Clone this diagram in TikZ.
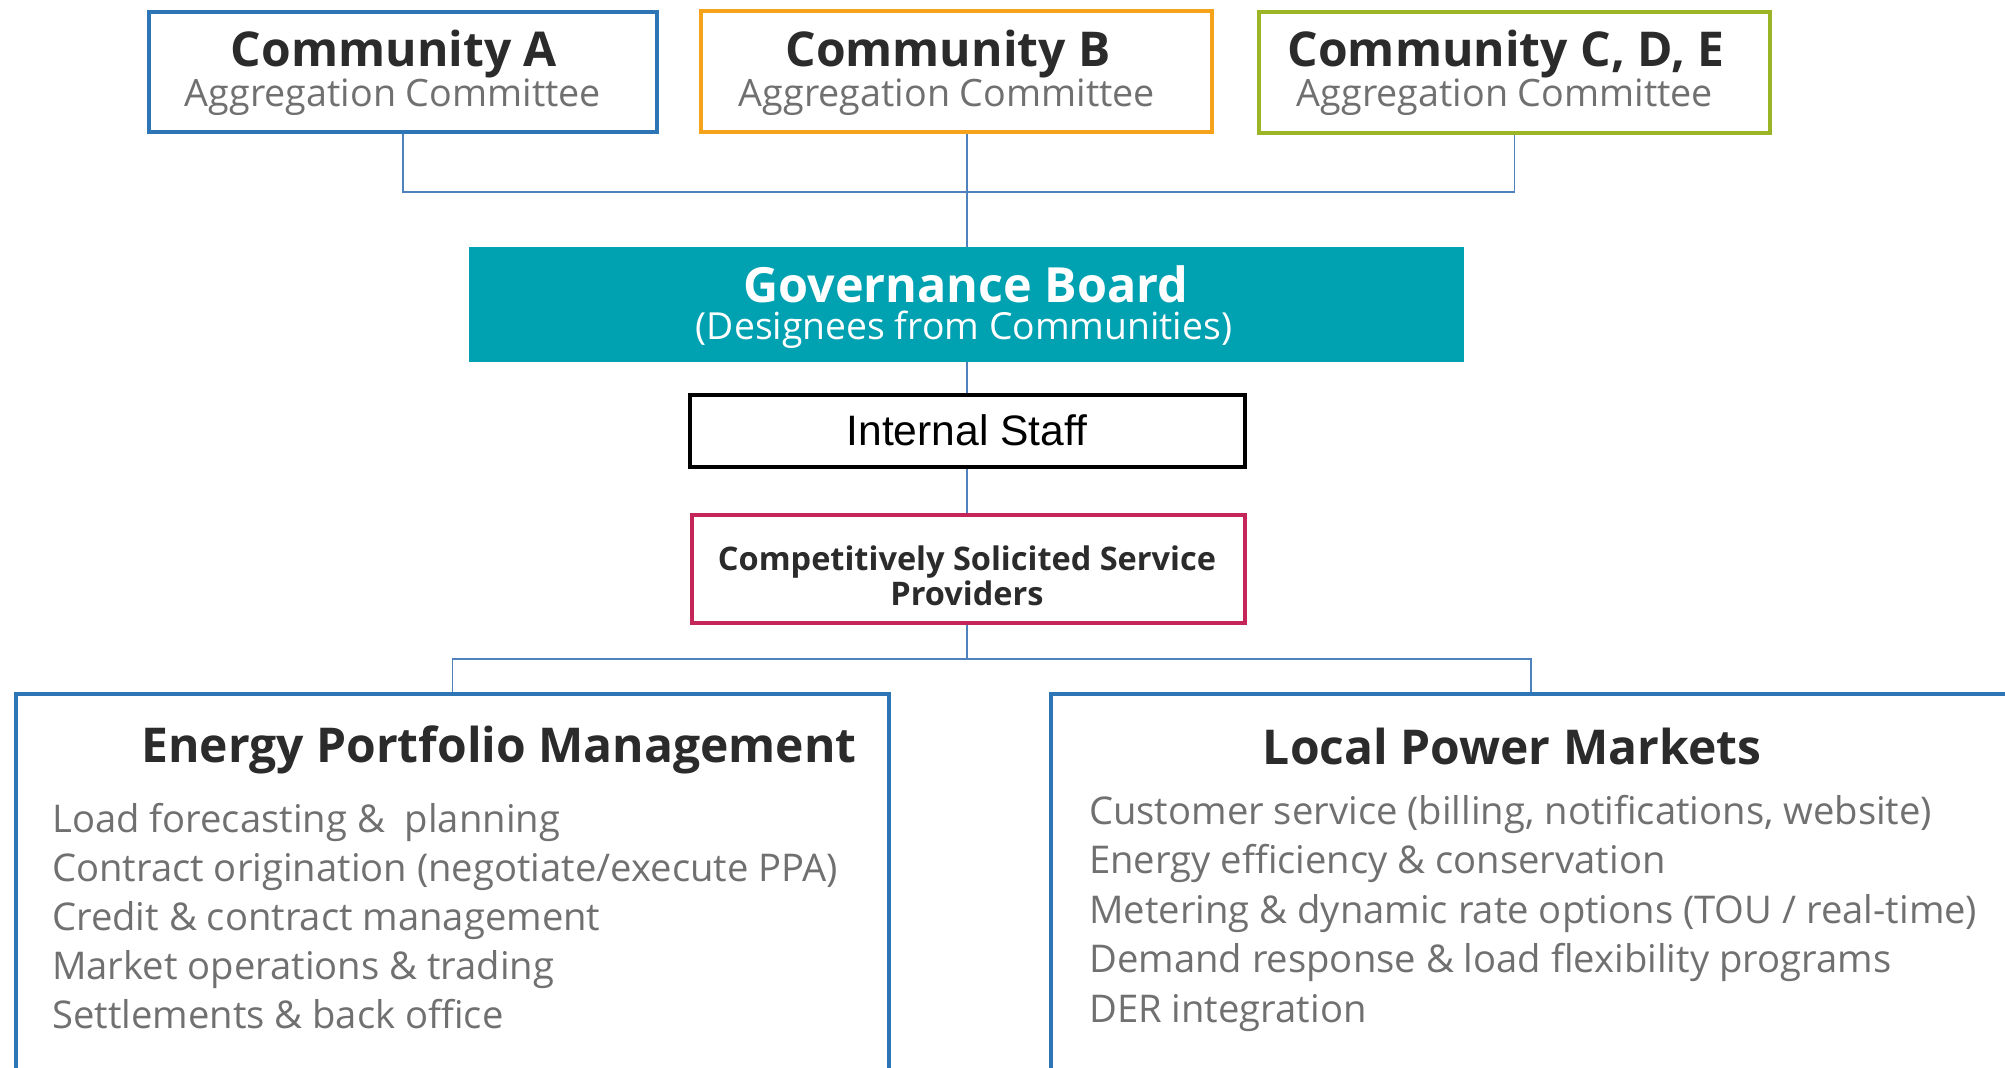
\documentclass[tikz,border=0pt]{standalone}
\usepackage{fontspec}
\setmainfont{Open Sans}
\newfontfamily\arialf{Liberation Sans}
\definecolor{cblue}{HTML}{2E75B6}
\definecolor{corange}{HTML}{F5A31A}
\definecolor{cgreen}{HTML}{9BB526}
\definecolor{cteal}{HTML}{00A1B1}
\definecolor{ccrimson}{HTML}{C4265A}
\definecolor{cline}{HTML}{4F81BD}
\definecolor{tdark}{HTML}{2B2B2B}
\definecolor{tgray}{HTML}{707070}
\tikzset{
  frame/.style={draw, line width=4pt, inner sep=0pt, fill=white},
  conn/.style={draw=cline, line width=1.8pt},
  ttl/.style={inner sep=0pt, anchor=base, text=tdark, font={\fontsize{48}{48}\selectfont\bfseries}},
  sub/.style={inner sep=0pt, anchor=base, text=tgray, font={\fontsize{37.7}{37.7}\selectfont}},
  big/.style={inner sep=0pt, anchor=base, text=tdark, font={\fontsize{48}{48}\selectfont\bfseries}},
  item/.style={inner sep=0pt, anchor=base west, text=tgray, font={\fontsize{38.2}{38.2}\selectfont}},
}
\begin{document}
\begin{tikzpicture}[x=1pt,y=-1pt]
\clip (0,0) rectangle (2005,1068);
\fill[white] (0,0) rectangle (2005,1068);

% community boxes
\node[frame, draw=cblue, minimum width=508pt, minimum height=120pt] (A) at (403,72) {};
\node[frame, draw=corange, minimum width=511pt, minimum height=121pt] (B) at (956.5,71.5) {};
\node[frame, draw=cgreen, minimum width=511pt, minimum height=121pt] (C) at (1514.5,72) {};

\node[ttl] (tA) at (394,66) {Community A};
\node[sub] (sA) at (393,106) {Aggregation Committee};
\node[ttl] (tB) at (948,66) {Community B};
\node[sub] (sB) at (947,106) {Aggregation Committee};
\node[ttl] (tC) at (1506,66) {Community C, D, E};
\node[sub] (sC) at (1505,106) {Aggregation Committee};

% governance
\node[fill=cteal, inner sep=0pt, minimum width=995pt, minimum height=115pt] (G) at (966.5,304.5) {};
\node[big, text=white, font={\fontsize{48.5}{48.5}\selectfont\bfseries}] (tG) at (966,302) {Governance Board};
\node[sub, text=white, font={\fontsize{37.3}{37.3}\selectfont}] (sG) at (964,339) {(Designees from Communities)};

% internal staff
\node[frame, draw=black, minimum width=555pt, minimum height=72pt] (I) at (967.5,431) {};
\node[inner sep=0pt, anchor=base, font={\arialf\fontsize{42.6}{42.6}\selectfont}] (tI) at (967,445) {Internal Staff};

% service providers
\node[frame, draw=ccrimson, minimum width=553pt, minimum height=108pt] (S) at (968.5,569) {};
\node[inner sep=0pt, anchor=base, text=tdark, font={\fontsize{32.5}{32.5}\selectfont\bfseries}] (tS1) at (967,570) {Competitively Solicited Service};
\node[inner sep=0pt, anchor=base, text=tdark, font={\fontsize{32.5}{32.5}\selectfont\bfseries}] (tS2) at (967,605) {Providers};

% bottom boxes
\node[frame, draw=cblue, minimum width=873pt, minimum height=404pt] (E) at (452.5,896) {};
\node[frame, draw=cblue, minimum width=960pt, minimum height=404pt] (L) at (1531,896) {};

\node[big] (tE) at (499,762) {Energy Portfolio Management};
\node[item] (e1) at (52,832) {Load forecasting \&\ \ planning};
\node[item] (e2) at (52,881) {Contract origination (negotiate/execute PPA)};
\node[item] (e3) at (52,930) {Credit \& contract management};
\node[item] (e4) at (52,979) {Market operations \& trading};
\node[item] (e5) at (52,1028) {Settlements \& back office};

\node[big] (tL) at (1512,764) {Local Power Markets};
\node[item] (l1) at (1089,824) {Customer service (billing, notifications, website)};
\node[item] (l2) at (1089,873) {Energy efficiency \& conservation};
\node[item] (l3) at (1089,923) {Metering \& dynamic rate options (TOU / real-time)};
\node[item] (l4) at (1089,972) {Demand response \& load flexibility programs};
\node[item] (l5) at (1089,1022) {DER integration};

% connectors
\coordinate (j1) at (967,192);
\coordinate (j2) at (967,659);
\draw[conn] (A.south) |- (j1) -| (C.south);
\draw[conn] (j1 |- B.south) -- (G.north -| j1);
\draw[conn] (G.south -| j1) -- (I.north -| j1);
\draw[conn] (I.south -| j1) -- (S.north -| j1);
\draw[conn] (S.south -| j1) -- (j2);
\draw[conn] (E.north) |- (j2) -| (L.north);
\end{tikzpicture}
\end{document}
